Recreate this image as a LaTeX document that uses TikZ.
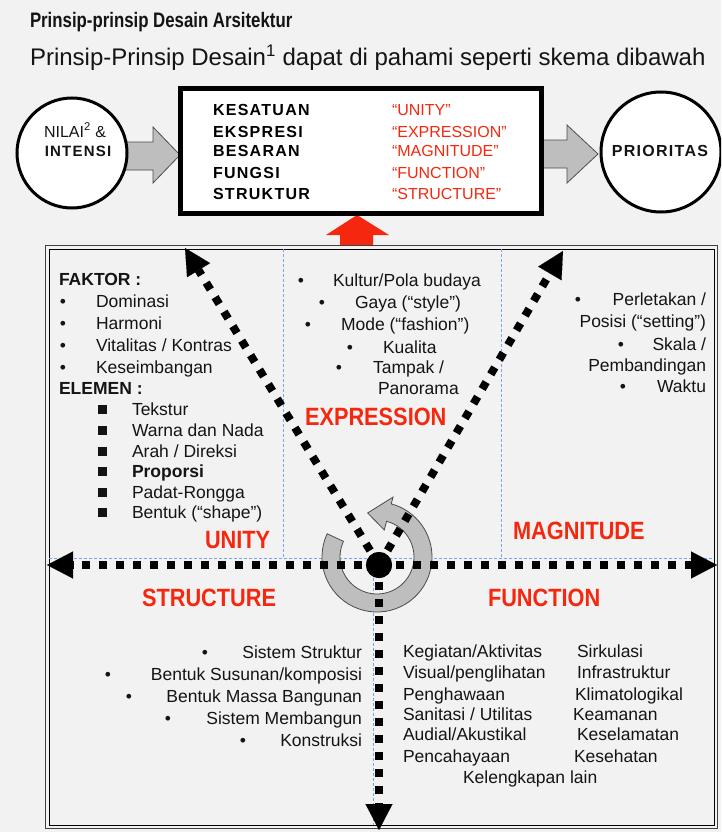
\documentclass[tikz,border=0pt]{standalone}
\usepackage{fontspec}
\setmainfont{Liberation Sans}
\newfontfamily\condfont{Liberation Sans}[FakeStretch=0.87]
\newfontfamily\titlefont{Liberation Sans}[FakeStretch=0.8]
\newfontfamily\spfont{Liberation Sans}[LetterSpace=8]
\usetikzlibrary{arrows.meta,calc}
\definecolor{bg}{RGB}{242,242,242}
\definecolor{rd}{RGB}{245,40,15}
\definecolor{gblue}{RGB}{120,165,230}
\definecolor{ringgray}{RGB}{190,190,190}
\definecolor{txtc}{RGB}{20,20,20}
\newcommand\fsz[1]{\fontsize{#1}{#1}\selectfont}
\begin{document}
\begin{tikzpicture}[x=1pt,y=-1pt,
  every node/.style={inner sep=0pt, outer sep=0pt},
  body/.style={font=\fsz{17.5}, text=txtc},
  bw/.style={body, anchor=base west},
  be/.style={body, anchor=base east},
  bul/.style={body, anchor=base},
  sqb/.style={fill=txtc, minimum size=9pt, inner sep=0pt},
  lab/.style={font=\condfont\bfseries\fsz{25}, text=rd, anchor=base west},
  boxk/.style={font=\spfont\bfseries\fsz{16}, text=black, anchor=base west},
  boxr/.style={font=\fsz{16}, text=rd, anchor=base west},
  blu/.style={draw=gblue, line width=0.8pt, dash pattern=on 3pt off 2pt},
  dotarrow/.style={draw=black, line width=8pt, dash pattern=on 8pt off 9pt, -{Triangle[length=26pt,width=27pt,line width=0.1pt]}},
  garrow/.style={fill=ringgray, draw=gray!60!black, line width=0.8pt},
]
\fill[bg] (0,0) rectangle (721,832);
\useasboundingbox (0,0) rectangle (721,832);
\clip (0,0) rectangle (721,832);

% title
\node[anchor=base west, font=\titlefont\bfseries\fsz{21}, text=txtc] (title) at (30,28) {Prinsip-prinsip Desain Arsitektur};
\node[anchor=base west, font=\fsz{24}, text=txtc] (sub) at (30,66) {Prinsip-Prinsip Desain\textsuperscript{1} dapat di pahami seperti skema dibawah};

% red arrow into the box
\fill[rd] (340,245) -- (340,235) -- (326,235) -- (357,215) -- (389,235) -- (373,235) -- (373,245) -- cycle;

% grey block arrows
\path[garrow] (125,142) -- (153,142) -- (153,127) -- (180,155) -- (153,183) -- (153,170) -- (125,170) -- cycle;
\path[garrow] (541,140) -- (567,140) -- (567,125) -- (598,154) -- (567,183) -- (567,168) -- (541,168) -- cycle;

% circles and box
\node[circle, draw=black, line width=3pt, fill=white, minimum size=110pt] (nilai) at (72,153) {};
\node[circle, draw=black, line width=3pt, fill=white, minimum size=120pt] (prior) at (661,152) {};
\node[draw=black, line width=5pt, fill=white, minimum width=361pt, minimum height=124pt] (box) at (360.5,151) {};

\node[anchor=base, font=\fsz{16}, text=txtc] (nilaiA) at (75,137) {NILAI\textsuperscript{2} \&};
\node[anchor=base, font=\spfont\bfseries\fsz{15}, text=txtc] (nilaiB) at (78,156) {INTENSI};
\node[anchor=base, font=\spfont\bfseries\fsz{16}, text=txtc] (priorT) at (660,157) {PRIORITAS};

\node[boxk] (k1) at (213,116) {KESATUAN};
\node[boxk] (k2) at (213,137) {EKSPRESI};
\node[boxk] (k3) at (213,157) {BESARAN};
\node[boxk] (k4) at (213,178) {FUNGSI};
\node[boxk] (k5) at (213,199) {STRUKTUR};
\node[boxr] (r1) at (392,116) {“UNITY”};
\node[boxr] (r2) at (392,137) {“EXPRESSION”};
\node[boxr] (r3) at (392,157) {“MAGNITUDE”};
\node[boxr] (r4) at (392,178) {“FUNCTION”};
\node[boxr] (r5) at (392,199) {“STRUCTURE”};

% main frame (double line)
\draw[line width=1.3pt, draw=black!75] (45.5,245.5) rectangle (717.5,828.5);
\draw[line width=1pt, draw=black] (49,249) rectangle (714,825);

% blue dashed guides
\draw[blu] (283,249) -- (283,558);
\draw[blu] (501,249) -- (501,558);
\draw[blu] (49,558) -- (714,558);
\draw[blu] (373,558) -- (373,825);

% UNITY block
\node[bw, font=\bfseries\fsz{17.5}] (faktor) at (59,285) {FAKTOR :};
\foreach \y/\t [count=\i] in {307/{Dominasi}, 329/{Harmoni}, 351/{Vitalitas / Kontras}, 373/{Keseimbangan}}{
  \node[bul] (fb\i) at (63,\y) {•};
  \node[bw] (ft\i) at (96,\y) {\t};
}
\node[bw, font=\bfseries\fsz{17.5}] (elemen) at (59,394) {ELEMEN :};
\foreach \y/\t [count=\i] in {415/{Tekstur}, 436/{Warna dan Nada}, 457/{Arah / Direksi}, 477/{\textbf{Proporsi}}, 498/{Padat-Rongga}, 518/{Bentuk (“shape”)}}{
  \node[sqb] (es\i) at (102,\y-6) {};
  \node[bw] (et\i) at (132,\y) {\t};
}
\node[lab] (unity) at (205,548) {UNITY};

% EXPRESSION block
\node[bul] (xb1) at (301,286) {•};
\node[bw] (xt1) at (333,286) {Kultur/Pola budaya};
\node[bul] (xb2) at (322,308) {•};
\node[bw] (xt2) at (355,308) {Gaya (“style”)};
\node[bul] (xb3) at (308,330) {•};
\node[bw] (xt3) at (341,330) {Mode (“fashion”)};
\node[bul] (xb4) at (350,353) {•};
\node[bw] (xt4) at (383,353) {Kualita};
\node[bul] (xb5) at (339,373) {•};
\node[bw] (xt5) at (373,373) {Tampak /};
\node[bw] (xt6) at (378,394) {Panorama};
\node[lab] (expr) at (305,425) {EXPRESSION};

% MAGNITUDE block
\node[bul] (mb1) at (578,305) {•};
\node[be] (mt1) at (706,305) {Perletakan /};
\node[be] (mt2) at (706,327) {Posisi (“setting”)};
\node[bul] (mb3) at (621,350) {•};
\node[be] (mt3) at (706,350) {Skala /};
\node[be] (mt4) at (706,371) {Pembandingan};
\node[bul] (mb5) at (623,392) {•};
\node[be] (mt5) at (706,392) {Waktu};
\node[lab] (magn) at (513,539) {MAGNITUDE};

% STRUCTURE block
\node[lab] (struc) at (142,606) {STRUCTURE};
\foreach \y/\bx/\t [count=\i] in {658/205/{Sistem Struktur}, 680/108/{Bentuk Susunan/komposisi}, 702/129/{Bentuk Massa Bangunan}, 724/168/{Sistem Membangun}, 746/243/{Konstruksi}}{
  \node[bul] (sb\i) at (\bx,\y) {•};
  \node[be] (st\i) at (362,\y) {\t};
}

% FUNCTION block
\node[lab] (func) at (488,606) {FUNCTION};
\foreach \y/\t [count=\i] in {657/{Kegiatan/Aktivitas}, 678/{Visual/penglihatan}, 700/{Penghawaan}, 720/{Sanitasi / Utilitas}, 740/{Audial/Akustikal}, 762/{Pencahayaan}}{
  \node[bw] (fl\i) at (403,\y) {\t};
}
\foreach \y/\x/\t [count=\i] in {657/577/{Sirkulasi}, 678/577/{Infrastruktur}, 700/575/{Klimatologikal}, 720/573/{Keamanan}, 740/577/{Keselamatan}, 762/574/{Kesehatan}}{
  \node[bw] (fr\i) at (\x,\y) {\t};
}
\node[bw] (flast) at (463,783) {Kelengkapan lain};

% rotating ring
\coordinate (rc) at (377,557);
\path[garrow] ($(rc)+(-155:55)$) arc[start angle=-155, end angle=-435, radius=55]
  -- ($(rc)+(-435:62)$) -- ($(rc)+(-462:45)$) -- ($(rc)+(-435:28)$)
  -- ($(rc)+(-435:37)$) arc[start angle=-435, end angle=-155, radius=37] -- cycle;

% dotted arrows
\node[circle, fill=black, minimum size=26pt] (ctr) at (379,565) {};
\coordinate (tipL) at (47,565);
\coordinate (tipR) at (717,565);
\coordinate (tipD) at (379,830);
\coordinate (tipUL) at (185,248);
\coordinate (tipUR) at (563,251);
\draw[dotarrow] (ctr.center) -- (tipL);
\draw[dotarrow] (ctr.center) -- (tipR);
\draw[dotarrow] (ctr.center) -- (tipD);
\draw[dotarrow] (ctr.center) -- (tipUL);
\draw[dotarrow] (ctr.center) -- (tipUR);
\fill[black] (ctr) circle (13);
\end{tikzpicture}
\end{document}
